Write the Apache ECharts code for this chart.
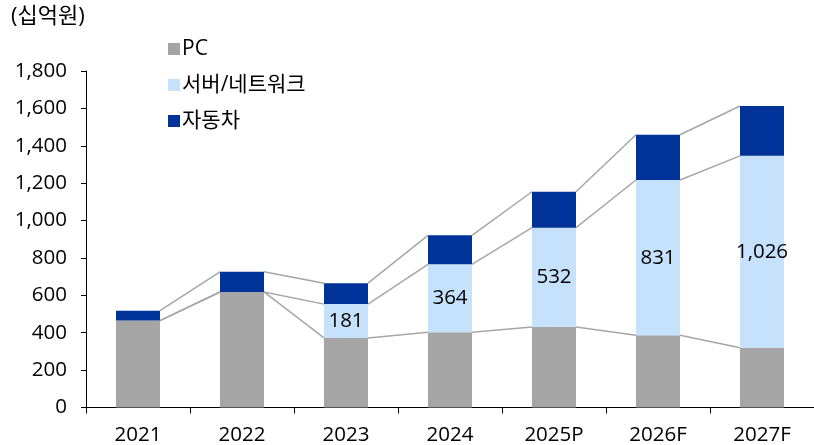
<!DOCTYPE html>
<html><head><meta charset="utf-8">
<script src="https://cdn.jsdelivr.net/npm/echarts@6/dist/echarts.min.js"></script>
<style>html,body{margin:0;padding:0;background:#fff}#c{width:814px;height:445px}</style>
</head><body><div id="c"></div>
<script>
const categories = ['2021','2022','2023','2024','2025P','2026F','2027F'];
const pcValues = [465, 618, 372, 402, 430, 386, 320];
const serverValues = [0, 0, 181, 364, 532, 831, 1026];
const autoValues = [53, 108, 112, 155, 192, 242, 267];
const yTicks = [0, 200, 400, 600, 800, 1000, 1200, 1400, 1600, 1800];

const FONT = '"Open Sans", "Noto Sans CJK KR", sans-serif';
const BAR_W = 44;
const FS = 20.5;
const pcTop = pcValues;
const serverTop = pcValues.map((v, i) => v + serverValues[i]);
const totalTop = serverTop.map((v, i) => v + autoValues[i]);

function segData(arr) {
  const d = [];
  for (let i = 0; i < arr.length - 1; i++) d.push([i, arr[i], arr[i + 1]]);
  return d;
}
function connector(name, arr) {
  return {
    type: 'custom', name: name, silent: true, z: 1,
    renderItem: function (params, api) {
      const i = api.value(0);
      const p1 = api.coord([i, api.value(1)]);
      const p2 = api.coord([i + 1, api.value(2)]);
      return {
        type: 'line',
        shape: { x1: p1[0] + BAR_W / 2, y1: p1[1], x2: p2[0] - BAR_W / 2, y2: p2[1] },
        style: { stroke: '#a6a6a6', lineWidth: 1.5 }
      };
    },
    encode: { x: 0, y: 1 },
    data: segData(arr)
  };
}

const chart = echarts.init(document.getElementById('c'), null, { renderer: 'canvas' });
chart.setOption({
  animation: false,
  textStyle: { fontFamily: FONT },
  grid: { left: 86, top: 71, width: 731, bottom: 37, containLabel: false },
  graphic: [{ type: 'text', left: 11, top: 6, style: { text: '(십억원)', font: '22px ' + FONT, fill: '#000' } }],
  legend: {
    orient: 'vertical', left: 163, top: 32, itemWidth: 12, itemHeight: 12, itemGap: 12,
    icon: 'rect',
    textStyle: { fontFamily: FONT, fontSize: 21, color: '#000', padding: [0, 0, 0, -3], lineHeight: 24 },
    data: ['PC', '서버/네트워크', '자동차']
  },
  xAxis: {
    type: 'category', data: categories,
    axisLine: { lineStyle: { color: '#000', width: 1 } },
    axisTick: { show: true, alignWithLabel: false, length: 6, lineStyle: { color: '#000' } },
    axisLabel: { fontFamily: FONT, fontSize: FS, color: '#000', margin: 17 }
  },
  yAxis: {
    type: 'value', min: 0, max: 1800, interval: 200,
    axisLine: { show: true, lineStyle: { color: '#000', width: 1 } },
    axisTick: { show: true, length: 5, lineStyle: { color: '#000' } },
    splitLine: { show: false },
    axisLabel: {
      fontFamily: FONT, fontSize: FS, color: '#000', margin: 19,
      formatter: v => yTicks.includes(v) ? v.toLocaleString('en-US') : ''
    }
  },
  series: [
    { name: 'PC', type: 'bar', stack: 's', barWidth: BAR_W, data: pcValues, itemStyle: { color: '#a5a5a5' }, z: 2 },
    { name: '서버/네트워크', type: 'bar', stack: 's', barWidth: BAR_W, data: serverValues, itemStyle: { color: '#c5e1fb' }, z: 2,
      label: { show: true, position: 'inside', fontFamily: FONT, fontSize: FS, color: '#000',
        formatter: p => p.value > 0 ? p.value.toLocaleString('en-US') : '' } },
    { name: '자동차', type: 'bar', stack: 's', barWidth: BAR_W, data: autoValues, itemStyle: { color: '#003399' }, z: 2 },
    connector('l1', pcTop),
    connector('l2', serverTop),
    connector('l3', totalTop)
  ]
});
</script></body></html>
